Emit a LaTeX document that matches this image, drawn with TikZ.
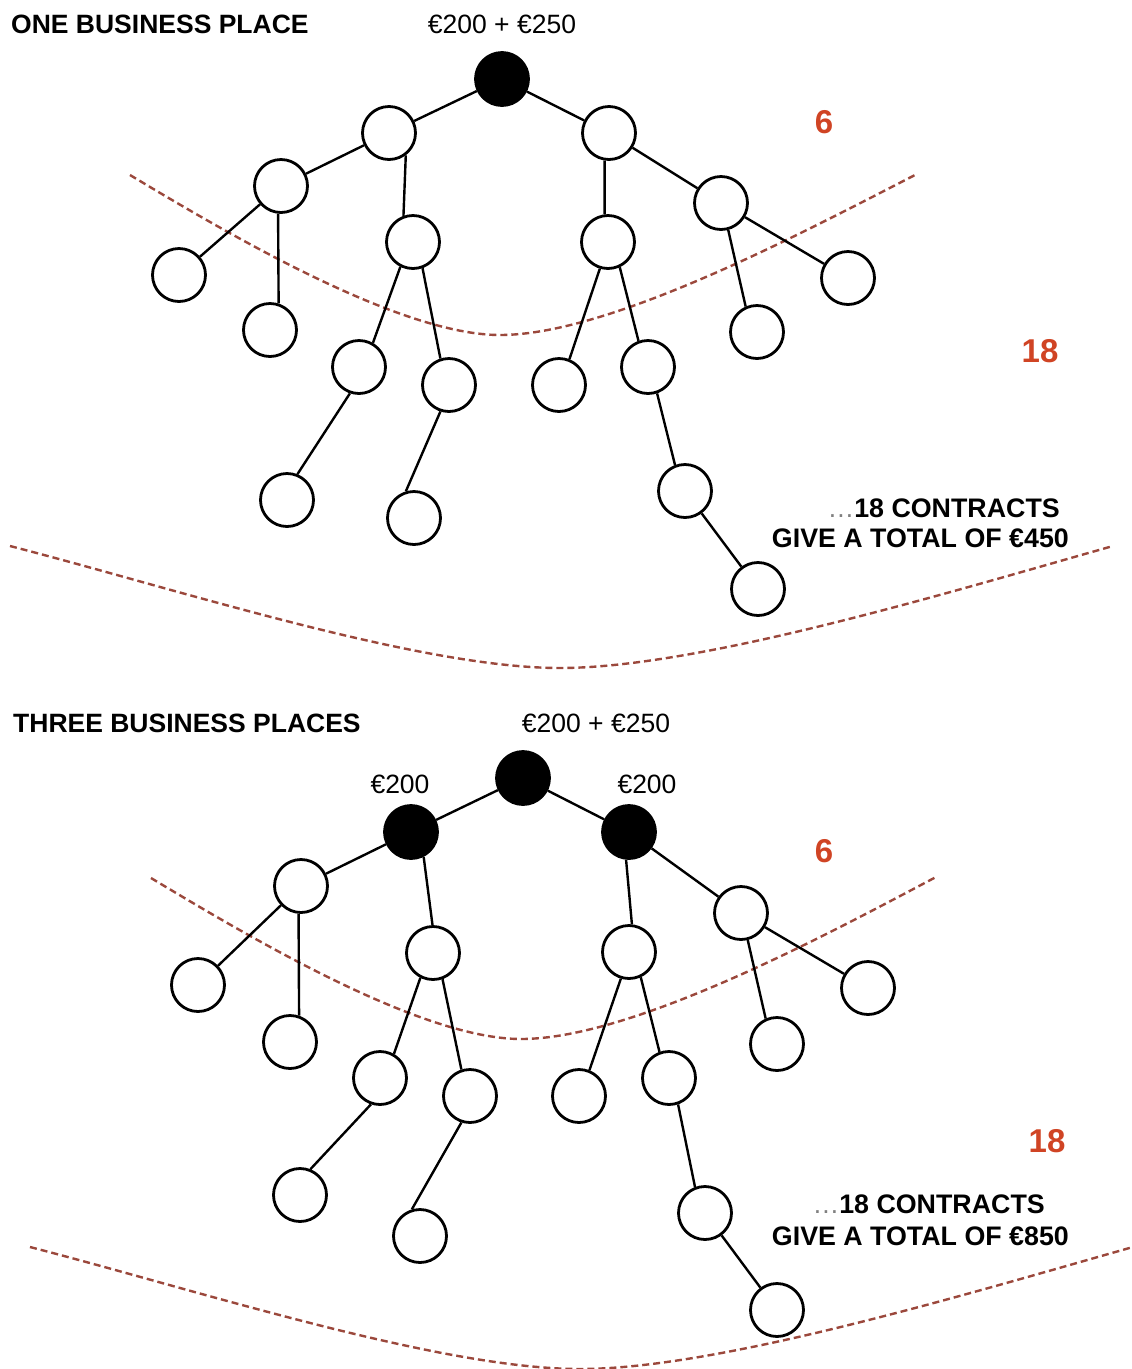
\documentclass[tikz,border=0pt]{standalone}
\usepackage{fontspec}
\setmainfont{Liberation Sans}
\definecolor{numred}{RGB}{208,68,36}
\definecolor{dashred}{RGB}{155,72,60}
\begin{document}
\begin{tikzpicture}[x=1pt,y=-1pt,
  nd/.style={circle,draw=black,fill=white,line width=2.8pt,minimum size=53pt,inner sep=0pt},
  bk/.style={nd,fill=black},
  ed/.style={line width=2.4pt},
  band/.style={draw=dashred,line width=2.4pt,dash pattern=on 7pt off 4pt},
  ttl/.style={font=\fontsize{26.5}{30}\selectfont\bfseries,anchor=base west,inner sep=0pt},
  amt/.style={font=\fontsize{26.5}{30}\selectfont,anchor=base,inner sep=0pt},
  cnt/.style={font=\fontsize{33}{36}\selectfont\bfseries,text=numred,anchor=base,inner sep=0pt},
  note/.style={font=\fontsize{26.8}{30}\selectfont\bfseries,anchor=base east,inner sep=0pt}]
\useasboundingbox (0,0) rectangle (1132,1369);

% ---------- dashed bands ----------
\draw[band] (130,175) .. controls (230,235) and (400,335) .. (500,335)
            .. controls (610,335) and (800,234) .. (915,175);
\draw[band] (10,546) .. controls (180,590) and (420,668) .. (560,668)
            .. controls (700,668) and (950,592) .. (1113,546);
\draw[band] (151,878) .. controls (251,938) and (421,1039) .. (521,1039)
            .. controls (631,1039) and (821,938) .. (936,877);
\draw[band] (30,1247) .. controls (200,1291) and (440,1369) .. (580,1369)
            .. controls (720,1369) and (970,1293) .. (1140,1245);

% ---------- top tree ----------
\node[ttl] (t1) at (11,33) {ONE BUSINESS PLACE};
\node[amt] (m1) at (502,33) {€200 + €250};
\node[cnt] (s1) at (824,133) {6};
\node[cnt] (e1) at (1040,362) {18};
\node[note] (n1a) at (1060,517) {\textcolor{gray}{\mdseries…}18 CONTRACTS};
\node[note] (n1b) at (1069,547) {GIVE A TOTAL OF €450};

\node[bk] (R) at (502,79) {};
\node[nd] (A) at (389,133) {};
\node[nd] (B) at (609,133) {};
\node[nd] (A1) at (281,186) {};
\node[nd] (A2) at (413,242) {};
\node[nd] (B1) at (721,203) {};
\node[nd] (B2) at (608,242) {};
\node[nd] (A1a) at (179,275) {};
\node[nd] (A1b) at (270,330) {};
\node[nd] (A2a) at (359,367) {};
\node[nd] (A2b) at (449,385) {};
\node[nd] (B2a) at (559,385) {};
\node[nd] (B2b) at (648,367) {};
\node[nd] (B1b) at (757,332) {};
\node[nd] (B1a) at (848,278) {};
\node[nd] (A2aa) at (287,500) {};
\node[nd] (A2ba) at (414,518) {};
\node[nd] (B2ba) at (685,491) {};
\node[nd] (B2baa) at (758,589) {};

\draw[ed] (R) -- (A);
\draw[ed] (R) -- (B);
\draw[ed] (A) -- (A1);
\draw[ed] (A.-53) -- (A2.110);
\draw[ed] (A1) -- (A1a);
\draw[ed] (A1.-96) -- (A1b.72);
\draw[ed] (A2.-117) -- (A2a.60);
\draw[ed] (A2.-70) -- (A2b.108);
\draw[ed] (A2a.-109) -- (A2aa.68);
\draw[ed] (A2b.-108) -- (A2ba.107);
\draw[ed] (B) -- (B1);
\draw[ed] (B.-99) -- (B2.97);
\draw[ed] (B1) -- (B1a);
\draw[ed] (B1.-75) -- (B1b.114);
\draw[ed] (B2.-107) -- (B2a.68);
\draw[ed] (B2.-65) -- (B2b.110);
\draw[ed] (B2b.-71) -- (B2ba.111);
\draw[ed] (B2ba) -- (B2baa);

% ---------- bottom tree ----------
\node[ttl] (t2) at (13,732) {THREE BUSINESS PLACES};
\node[amt] (m2) at (596,732) {€200 + €250};
\node[amt] (l2) at (400,793) {€200};
\node[amt] (r2) at (647,793) {€200};
\node[cnt] (s2) at (824,862) {6};
\node[cnt] (e2) at (1047,1152) {18};
\node[note] (n2a) at (1045,1213) {\textcolor{gray}{\mdseries…}18 CONTRACTS};
\node[note] (n2b) at (1069,1245) {GIVE A TOTAL OF €850};

\node[bk] (P) at (523,778) {};
\node[bk] (L) at (411,832) {};
\node[bk] (Q) at (629,832) {};
\node[nd] (L1) at (301,886) {};
\node[nd] (L2) at (433,953) {};
\node[nd] (Q1) at (741,913) {};
\node[nd] (Q2) at (629,952) {};
\node[nd] (L1a) at (198,985) {};
\node[nd] (L1b) at (290,1042) {};
\node[nd] (L2a) at (380,1078) {};
\node[nd] (L2b) at (470,1096) {};
\node[nd] (L2aa) at (300,1195) {};
\node[nd] (L2ba) at (420,1236) {};
\node[nd] (Q1a) at (868,988) {};
\node[nd] (Q1b) at (777,1044) {};
\node[nd] (Q2a) at (579,1096) {};
\node[nd] (Q2b) at (669,1078) {};
\node[nd] (Q2ba) at (705,1213) {};
\node[nd] (Q2baa) at (777,1310) {};

\draw[ed] (P) -- (L);
\draw[ed] (P) -- (Q);
\draw[ed] (L) -- (L1);
\draw[ed] (L.-63) -- (L2.91);
\draw[ed] (L1) -- (L1a);
\draw[ed] (L1.-95) -- (L1b.71);
\draw[ed] (L2.-117) -- (L2a.60);
\draw[ed] (L2.-70) -- (L2b.108);
\draw[ed] (L2a.-109) -- (L2aa.68);
\draw[ed] (L2b.-108) -- (L2ba.107);
\draw[ed] (Q) -- (Q1);
\draw[ed] (Q.-96) -- (Q2.84);
\draw[ed] (Q1) -- (Q1a);
\draw[ed] (Q1.-76) -- (Q1b.114);
\draw[ed] (Q2.-107) -- (Q2a.68);
\draw[ed] (Q2.-65) -- (Q2b.110);
\draw[ed] (Q2b.-71) -- (Q2ba.111);
\draw[ed] (Q2ba) -- (Q2baa);
\end{tikzpicture}
\end{document}
